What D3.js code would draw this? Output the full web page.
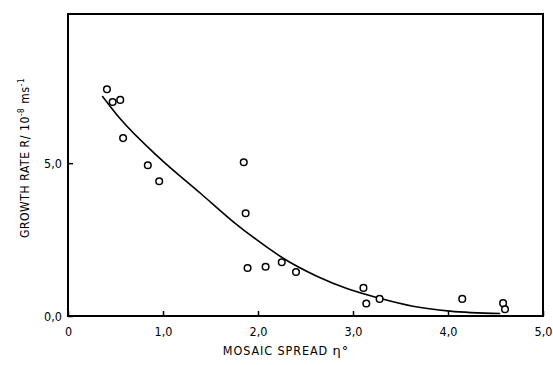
<!DOCTYPE html>
<html>
<head>
<meta charset="utf-8">
<script src="https://cdn.jsdelivr.net/npm/d3@7"></script>
<style>
  body { margin: 0; background: #fff; }
  text { font-family: "Liberation Sans Narrow", "DejaVu Sans Condensed", sans-serif; fill: #000; }
</style>
</head>
<body>
<div id="chart"></div>
<script>
// measured points: mosaic spread (deg) vs growth rate (1e-8 m/s)
const spread = [0.41, 0.47, 0.55, 0.58, 0.84, 0.96, 1.85, 1.87, 1.89, 2.08, 2.25, 2.40, 3.11, 3.14, 3.28, 4.15, 4.58, 4.60];
const rate   = [7.42, 7.00, 7.07, 5.82, 4.93, 4.41, 5.03, 3.36, 1.57, 1.61, 1.76, 1.44, 0.92, 0.41, 0.56, 0.56, 0.42, 0.22];

// fitted curve
const curveX = [0.36, 0.55, 0.97, 1.40, 1.74, 2.09, 2.27, 2.62, 2.95, 3.28, 3.63, 4.02, 4.55];
const curveY = [7.20, 6.45, 5.15, 4.00, 3.08, 2.26, 1.88, 1.30, 0.88, 0.58, 0.32, 0.16, 0.08];

const xTicks = [0, 1, 2, 3, 4, 5];
const yTicks = [0, 5];

const config = {
    width: 553,
    height: 365,
    padding: {top: 14, right: 10, bottom: 49, left: 68}
};
config.innerWidth = config.width - config.padding.left - config.padding.right;
config.innerHeight = config.height - config.padding.top - config.padding.bottom;

const svg = d3.select("#chart").append("svg")
    .attr("width", config.width)
    .attr("height", config.height);

const g = svg.append("g")
    .attr("transform", `translate(${config.padding.left}, ${config.padding.top})`);

const scale = {
    x: d3.scaleLinear().range([0, 475]).domain([0, 5]),
    y: d3.scaleLinear().range([config.innerHeight, 0]).domain([0, 9.88])
};

const comma = d => d === 0 ? "0" : d3.format(".1f")(d).replace(".", ",");

// x axis, ticks pointing in
const xAxis = g.append("g")
    .attr("transform", `translate(0,${config.innerHeight})`)
    .call(d3.axisBottom(scale.x).tickValues(xTicks).tickSizeInner(-5).tickSizeOuter(0).tickPadding(11).tickFormat(comma));
xAxis.select(".domain").remove();
xAxis.selectAll("line").attr("stroke", "#000").attr("stroke-width", 1.5);
xAxis.selectAll("text").attr("font-size", 12.5).attr("fill", "#000");

const yAxis = g.append("g")
    .call(d3.axisLeft(scale.y).tickValues(yTicks).tickSizeInner(-5).tickSizeOuter(0).tickPadding(6)
        .tickFormat(d => d3.format(".1f")(d).replace(".", ",")));
yAxis.select(".domain").remove();
yAxis.selectAll("line").attr("stroke", "#000").attr("stroke-width", 1.5);
yAxis.selectAll("text").attr("font-size", 12.5).attr("fill", "#000");

// frame
g.append("rect")
    .attr("x", 0).attr("y", 0)
    .attr("width", 475).attr("height", config.innerHeight)
    .attr("fill", "none").attr("stroke", "#000").attr("stroke-width", 2);

// fitted curve
const line = d3.line()
    .x(d => scale.x(d[0]))
    .y(d => scale.y(d[1]))
    .curve(d3.curveMonotoneX);
g.append("path")
    .datum(d3.zip(curveX, curveY))
    .attr("d", line)
    .attr("fill", "none")
    .attr("stroke", "#000")
    .attr("stroke-width", 1.6);

// data points
g.selectAll(".pt").data(d3.zip(spread, rate))
    .enter().append("circle")
    .attr("class", "pt")
    .attr("cx", d => scale.x(d[0]))
    .attr("cy", d => scale.y(d[1]))
    .attr("r", 3.3)
    .attr("fill", "#fff")
    .attr("stroke", "#000")
    .attr("stroke-width", 1.5);

// axis titles
svg.append("text")
    .attr("x", 286).attr("y", 355)
    .attr("text-anchor", "middle")
    .attr("font-size", 12.5)
    .attr("letter-spacing", 0.9)
    .html('MOSAIC SPREAD <tspan font-family="DejaVu Sans" font-size="13">η°</tspan>');

const yTitle = svg.append("text")
    .attr("transform", "translate(29,158) rotate(-90)")
    .attr("text-anchor", "middle")
    .attr("font-size", 12)
    .attr("letter-spacing", 0.6);
yTitle.append("tspan").text("GROWTH RATE  R/ 10");
yTitle.append("tspan").attr("dy", -5).attr("font-size", 8).text("-8");
yTitle.append("tspan").attr("dy", 5).text(" ms");
yTitle.append("tspan").attr("dy", -5).attr("font-size", 8).text("-1");
</script>
</body>
</html>
